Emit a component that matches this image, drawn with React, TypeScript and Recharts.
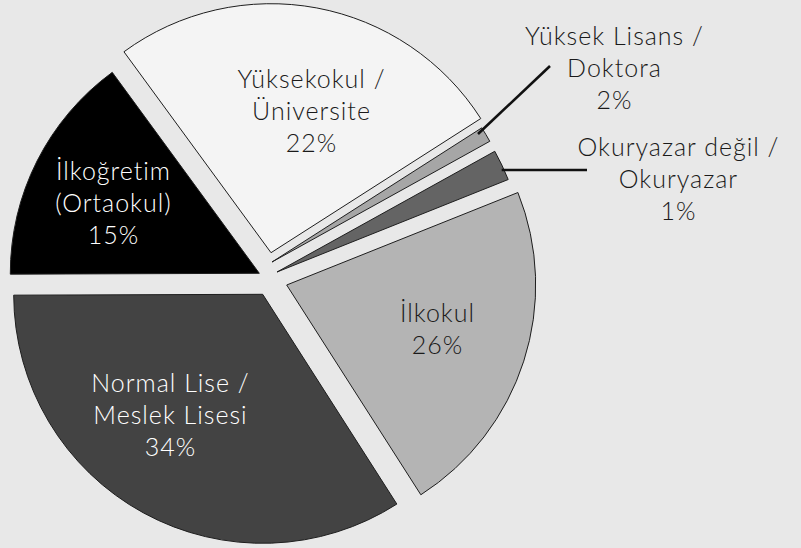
import { PieChart, Pie, Cell } from 'recharts';

// categories, clockwise from the top-right sliver
const categories = [
  'Yüksek Lisans /\nDoktora',
  'Okuryazar değil /\nOkuryazar',
  'İlkokul',
  'Normal Lise /\nMeslek Lisesi',
  'İlkoğretim\n(Ortaokul)',
  'Yüksekokul /\nÜniversite',
];
// slice sizes as they are drawn in the source (%)
const sliceShares = [1, 2, 22, 34, 15, 26];
// percentages as printed on the source labels
const printedShares = ['2%', '1%', '26%', '34%', '15%', '22%'];

const data = categories.map((name, i) => ({
  name,
  value: sliceShares[i],
  pct: printedShares[i],
}));

const W = 801;
const H = 548;
const BG = '#e8e8e8';
const CENTER = { x: 269, y: 279 };
const RADIUS = 249;
const START_ANGLE = 32.6;
const FONT = 'Lato, "Open Sans", sans-serif';
const FILLS = ['#a6a6a6', '#646464', '#b4b4b4', '#434343', '#000000', '#f4f4f4'];
const TEXT = ['#1a1a1a', '#1a1a1a', '#1a1a1a', '#ffffff', '#ffffff', '#1a1a1a'];
// explode offset of each slice, px
const SHIFT: [number, number][] = [
  [3, -17],
  [8, -7],
  [17.7, 6],
  [-6.3, 15.3],
  [-9.7, -5.7],
  [2, -26.3],
];
// label centre x / first baseline, relative to the slice apex; optional leader line
const LABEL: { dx: number; dy: number; line?: [number, number, number, number] }[] = [
  { dx: 342, dy: -217, line: [206, -128, 278, -196] },
  { dx: 401, dy: -116, line: [224.7, -102, 310, -102] },
  { dx: 150.3, dy: 37 },
  { dx: -92.7, dy: 97.7 },
  { dx: -146.3, dy: -93.3 },
  { dx: 40, dy: -164.4 },
];
const LINE_HEIGHT = 32;

function renderLabel(k: number, props: any) {
  if (props.index !== k) return null;
  const ax = CENTER.x + SHIFT[k][0];
  const ay = CENTER.y + SHIFT[k][1];
  const cfg = LABEL[k];
  const lines = [...data[k].name.split('\n'), data[k].pct];
  const x = ax + cfg.dx + 0.5;
  return (
    <g key={`lbl-${k}`}>
      {cfg.line && (
        <line
          x1={ax + cfg.line[0]}
          y1={ay + cfg.line[1]}
          x2={ax + cfg.line[2]}
          y2={ay + cfg.line[3]}
          stroke="#111"
          strokeWidth={2.6}
        />
      )}
      <text
        x={x}
        y={ay + cfg.dy}
        textAnchor="middle"
        fill={TEXT[k]}
        fontFamily={FONT}
        fontWeight={300}
        fontSize={25}
        letterSpacing={1}
      >
        {lines.map((t, i) => (
          <tspan key={i} x={x} y={ay + cfg.dy + i * LINE_HEIGHT}>
            {t}
          </tspan>
        ))}
      </text>
    </g>
  );
}

export default function App() {
  return (
    <div style={{ position: 'fixed', left: 0, top: 0, width: W, height: H, background: BG }}>
      <PieChart width={W} height={H} margin={{ top: 0, right: 0, bottom: 0, left: 0 }}>
        {data.map((_, k) => (
          <Pie
            key={k}
            data={data}
            dataKey="value"
            nameKey="name"
            cx={CENTER.x + SHIFT[k][0]}
            cy={CENTER.y + SHIFT[k][1]}
            innerRadius={0}
            outerRadius={RADIUS}
            startAngle={START_ANGLE}
            endAngle={START_ANGLE - 360}
            isAnimationActive={false}
            labelLine={false}
            label={(p: any) => renderLabel(k, p)}
          >
            {data.map((_, i) => (
              <Cell
                key={i}
                fill={i === k ? FILLS[i] : 'none'}
                stroke={i === k ? '#1e1e1e' : 'none'}
                strokeWidth={1}
              />
            ))}
          </Pie>
        ))}
      </PieChart>
    </div>
  );
}
